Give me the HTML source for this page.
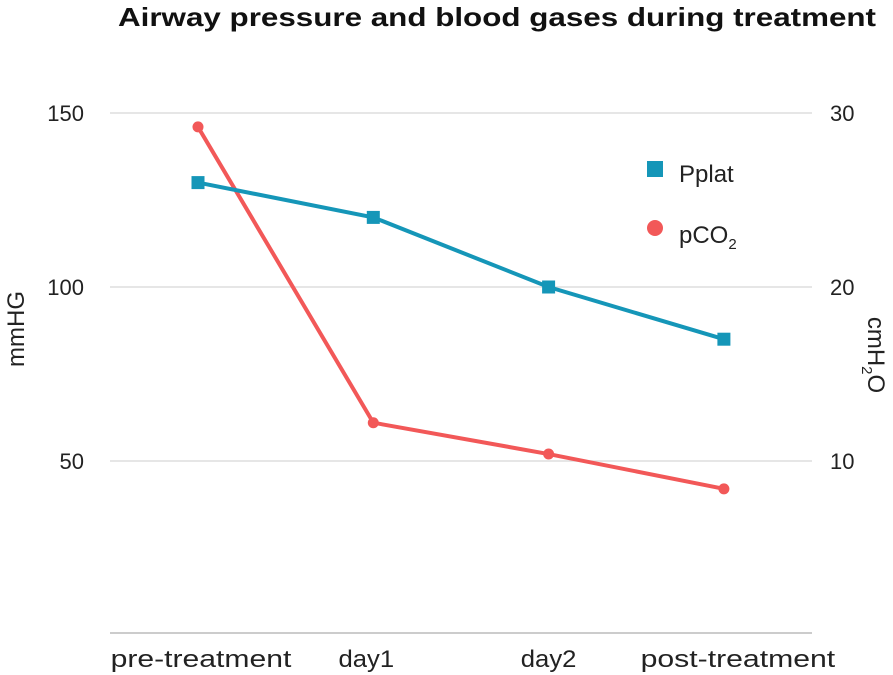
<!DOCTYPE html>
<html><head><meta charset="utf-8"><style>
body{margin:0;background:#fff;}
svg{display:block;font-family:"Liberation Sans",sans-serif;}
</style></head><body>
<svg id="chart" width="893" height="675">
<text x="118" y="26" textLength="758" lengthAdjust="spacingAndGlyphs" font-size="26" font-weight="bold" fill="#111">Airway pressure and blood gases during treatment</text>
<g id="grid"></g>
<g id="axes"></g>
<g id="series"></g>
<text transform="translate(24,329) rotate(-90)" text-anchor="middle" font-size="24" fill="#222">mmHG</text>
<text transform="translate(868,355) rotate(90)" text-anchor="middle" font-size="24" fill="#222">cmH<tspan font-size="15" dy="6">2</tspan><tspan dy="-6">O</tspan></text>
<g>
<rect x="647" y="161" width="16" height="16" fill="#1596b8"/>
<text x="679" y="182" font-size="24" fill="#222">Pplat</text>
<circle cx="655" cy="228" r="8" fill="#f25858"/>
<text x="679" y="243" font-size="24" fill="#222">pCO<tspan font-size="15" dy="6">2</tspan></text>
</g>
</svg>
<script>
const categories=["pre-treatment","day1","day2","post-treatment"];
const pplat=[26,24,20,17];
const pco2=[146,61,52,42];
const leftTicks=[50,100,150];
const rightTicks=[10,20,30];
const NS="http://www.w3.org/2000/svg";
const x0=110,x1=812,yBase=635,pxPer=3.48;
const yL=v=>yBase-v*pxPer;
const yR=v=>yBase-v*pxPer*5;
const xC=i=>198+i*175.3;
function mk(t,a,p){const e=document.createElementNS(NS,t);for(const k in a)e.setAttribute(k,a[k]);p.appendChild(e);return e;}
const grid=document.getElementById('grid'),axes=document.getElementById('axes'),ser=document.getElementById('series');
leftTicks.forEach(v=>{
 const l=mk('line',{x1:x0,x2:x1,y1:yL(v),y2:yL(v),stroke:'#ddd','stroke-width':1.5},grid);
 
 
 const t=mk('text',{x:84,y:yL(v)+8,'text-anchor':'end','font-size':22,fill:'#222'},axes);t.textContent=v;
 
 
});
rightTicks.forEach(v=>{
 const t=mk('text',{x:830,y:yR(v)+8,'font-size':22,fill:'#222'},axes);t.textContent=v;
 
 
});
const base=mk('line',{x1:x0,x2:x1,y1:633,y2:633,stroke:'#ccc','stroke-width':2},axes);


const labelOffset=[3,-7,0,14];
categories.forEach((c,i)=>{
 const t=mk('text',{x:xC(i)+labelOffset[i],y:667,'text-anchor':'middle','font-size':24,fill:'#222',textLength:c.length*13.9,lengthAdjust:'spacingAndGlyphs'},axes);t.textContent=c;
 
 
});
const pl=mk('polyline',{points:pco2.map((v,i)=>xC(i)+','+yL(v)).join(' '),fill:'none',stroke:'#f25858','stroke-width':4},ser);


const bl=mk('polyline',{points:pplat.map((v,i)=>xC(i)+','+yR(v)).join(' '),fill:'none',stroke:'#1596b8','stroke-width':4},ser);


pco2.forEach((v,i)=>{const c=mk('circle',{cx:xC(i),cy:yL(v),r:5.5,fill:'#f25858'},ser);
 
 });
pplat.forEach((v,i)=>{const r=mk('rect',{x:xC(i)-6.5,y:yR(v)-6.5,width:13,height:13,fill:'#1596b8'},ser);
 
 });
</script>
</body></html>
